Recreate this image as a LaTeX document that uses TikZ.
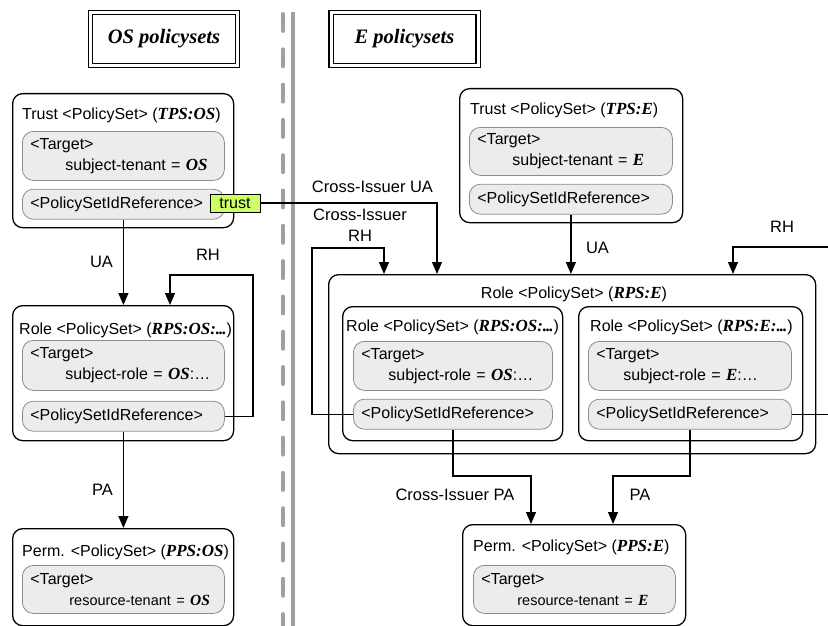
\documentclass[tikz,border=0pt]{standalone}
\usepackage{fontspec}
\setmainfont{Liberation Sans}
\newfontfamily\tnr{Liberation Serif}
\usetikzlibrary{positioning, arrows.meta}

\definecolor{trustgreen}{RGB}{204,255,102}
\definecolor{sepgray}{RGB}{160,160,160}
\definecolor{tgtfill}{RGB}{236,236,236}
\definecolor{tgtline}{RGB}{140,140,140}

\newcommand{\idf}[1]{{\tnr\bfseries\itshape\fontsize{17pt}{21pt}\selectfont #1}}
\newcommand{\idfs}[1]{{\tnr\bfseries\itshape\fontsize{15.5pt}{19pt}\selectfont #1}}
\newcommand{\dotz}{.\kern-1pt.\kern-1pt.}

\begin{document}
\begin{tikzpicture}[
        x=1pt, y=-1pt,
        every node/.style={font=\fontsize{16pt}{21pt}\selectfont},
        hdr/.style={draw, double, double distance=3pt, line width=1.2pt, minimum width=147pt, minimum height=53pt, font=\tnr\bfseries\itshape\fontsize{20.5pt}{24pt}\selectfont},
        psbox/.style={draw, rounded corners=10pt, line width=1.3pt, anchor=north west, inner sep=0pt},
        ttl/.style={anchor=base west, inner sep=0pt},
        tgt/.style={draw=tgtline, fill=tgtfill, line width=0.8pt, rounded corners=11pt, anchor=north west, inner xsep=8pt, inner ysep=0pt, align=left, text width=#1},
        psref/.style={tgt=#1, minimum height=30pt},
        trustlbl/.style={draw, fill=trustgreen, line width=1pt, minimum width=50pt, minimum height=18pt, inner sep=0pt},
        lbl/.style={inner sep=0pt, font=\fontsize{16.5pt}{21pt}\selectfont},
        sepdash/.style={sepgray, line width=4pt, line cap=round, dash pattern=on 17pt off 18.3pt},
        sepsolid/.style={sepgray, line width=3.5pt},
        link/.style={-{Triangle[length=12pt, width=10pt]}, line width=1.3pt}
    ]

    \useasboundingbox (0,0) rectangle (828,626);
    \clip (0,0) rectangle (828,626);

    % Headers and separator
    \node[hdr] (osHdr) at (164,39) {OS policysets};
    \node[hdr] (eHdr) at (404.5,39) {E policysets};
    \draw[sepdash] (283,14) -- (283,640);
    \draw[sepsolid] (293,12) -- (293,640);

    % OS policysets
    \node[psbox, minimum width=221pt, minimum height=134pt] (tpsOS) at (12,93) {};
    \node[ttl] (tpsOS-t) at (22,119.5) {Trust <PolicySet> (\idf{TPS:OS})};
    \node[tgt=186pt, minimum height=49pt] (tpsOS-tg) at (22,131) {<Target>\\\hspace*{35pt}subject-tenant = \idf{OS}};
    \node[psref=186pt, below right=8pt and 0pt of tpsOS-tg.south west] (tpsOS-ps) {<PolicySetIdReference>};
    \node[trustlbl] (trust) at (235,203) {trust};

    \node[psbox, minimum width=221pt, minimum height=135pt] (rpsOS) at (12,305) {};
    \node[ttl] (rpsOS-t) at (19,334) {Role <PolicySet> (\idf{RPS:OS:\dotz})};
    \node[tgt=186pt, minimum height=50pt] (rpsOS-tg) at (22,340) {<Target>\\\hspace*{35pt}subject-role = \idf{OS}:…};
    \node[psref=186pt, below right=10pt and 0pt of rpsOS-tg.south west] (rpsOS-ps) {<PolicySetIdReference>};

    \node[psbox, minimum width=221pt, minimum height=97pt] (ppsOS) at (12,528) {};
    \node[ttl] (ppsOS-t) at (22,556) {Perm. <PolicySet> (\idf{PPS:OS})};
    \node[tgt=186pt, minimum height=48pt] (ppsOS-tg) at (22,565) {<Target>\\\hspace*{39pt}{\fontsize{14.5pt}{20pt}\selectfont resource-tenant = \idfs{OS}}};

    % E policysets
    \node[psbox, minimum width=223pt, minimum height=134pt] (tpsE) at (459,88) {};
    \node[ttl] (tpsE-t) at (470,114.5) {Trust <PolicySet> (\idf{TPS:E})};
    \node[tgt=187pt, minimum height=48pt] (tpsE-tg) at (469,127) {<Target>\\\hspace*{35pt}subject-tenant = \idf{E}};
    \node[psref=187pt, below right=8pt and 0pt of tpsE-tg.south west] (tpsE-ps) {<PolicySetIdReference>};

    \node[psbox, minimum width=487pt, minimum height=179pt] (rpsE) at (328,274) {};
    \node[ttl, anchor=base] (rpsE-t) at (574,298) {Role <PolicySet> (\idf{RPS:E})};

    \node[psbox, minimum width=220pt, minimum height=134pt] (irOS) at (342,306) {};
    \node[ttl] (irOS-t) at (346,331) {Role <PolicySet> (\idf{RPS:OS:\dotz})};
    \node[tgt=183pt, minimum height=49pt] (irOS-tg) at (353,341) {<Target>\\\hspace*{27pt}subject-role = \idf{OS}:…};
    \node[psref=183pt, below right=8pt and 0pt of irOS-tg.south west] (irOS-ps) {<PolicySetIdReference>};

    \node[psbox, minimum width=224pt, minimum height=134pt] (irE) at (578,306) {};
    \node[ttl] (irE-t) at (590,331) {Role <PolicySet> (\idf{RPS:E:\dotz})};
    \node[tgt=187pt, minimum height=49pt] (irE-tg) at (588,341) {<Target>\\\hspace*{27pt}subject-role = \idf{E}:…};
    \node[psref=187pt, below right=8pt and 0pt of irE-tg.south west] (irE-ps) {<PolicySetIdReference>};

    \node[psbox, minimum width=223pt, minimum height=101pt] (ppsE) at (462,524) {};
    \node[ttl] (ppsE-t) at (473,551) {Perm. <PolicySet> (\idf{PPS:E})};
    \node[tgt=186pt, minimum height=48pt] (ppsE-tg) at (473,565) {<Target>\\\hspace*{36pt}{\fontsize{14.5pt}{20pt}\selectfont resource-tenant = \idfs{E}}};

    % Assignments
    \coordinate (ciUA) at (437,0);
    \draw[link] (trust.east) -| (ciUA |- rpsE.north);
    \node[lbl] (ciUA-l) at (372.5,187) {Cross-Issuer UA};

    \draw[link] (tpsOS-ps.south) -- (tpsOS-ps.south |- rpsOS.north);
    \node[lbl] (uaOS-l) at (101.5,262) {UA};

    \draw[link] (tpsE-ps.south) -- (tpsE-ps.south |- rpsE.north);
    \node[lbl] (uaE-l) at (597.5,248) {UA};

    \draw[link] (rpsOS-ps.south) -- (rpsOS-ps.south |- ppsOS.north);
    \node[lbl] (paOS-l) at (102.5,490) {PA};

    \coordinate (ciPA) at (531,476);
    \draw[link] (irOS-ps.south) |- (ciPA) -- (ciPA |- ppsE.north);
    \node[lbl] (ciPA-l) at (455,495) {Cross-Issuer PA};

    \coordinate (paE) at (613,476);
    \draw[link] (irE-ps.south) |- (paE) -- (paE |- ppsE.north);
    \node[lbl] (paE-l) at (640,495) {PA};

    % Role hierarchies
    \coordinate (rhOSa) at (253,275);
    \coordinate (rhOSb) at (170,275);
    \draw[link] (rpsOS-ps.east) -| (rhOSa) -- (rhOSb) -- (rhOSb |- rpsOS.north);
    \node[lbl] (rhOS-l) at (208,255) {RH};

    \coordinate (ciRHa) at (312,248);
    \coordinate (ciRHb) at (384,248);
    \draw[link] (irOS-ps.west) -| (ciRHa) -- (ciRHb) -- (ciRHb |- rpsE.north);
    \node[lbl, align=center] (ciRH-l) at (360,225) {Cross-Issuer\\RH};

    \coordinate (rhEa) at (850,247);
    \coordinate (rhEb) at (733,247);
    \draw[link] (irE-ps.east) -| (rhEa) -- (rhEb) -- (rhEb |- rpsE.north);
    \node[lbl] (rhE-l) at (782,227) {RH};

\end{tikzpicture}
\end{document}
